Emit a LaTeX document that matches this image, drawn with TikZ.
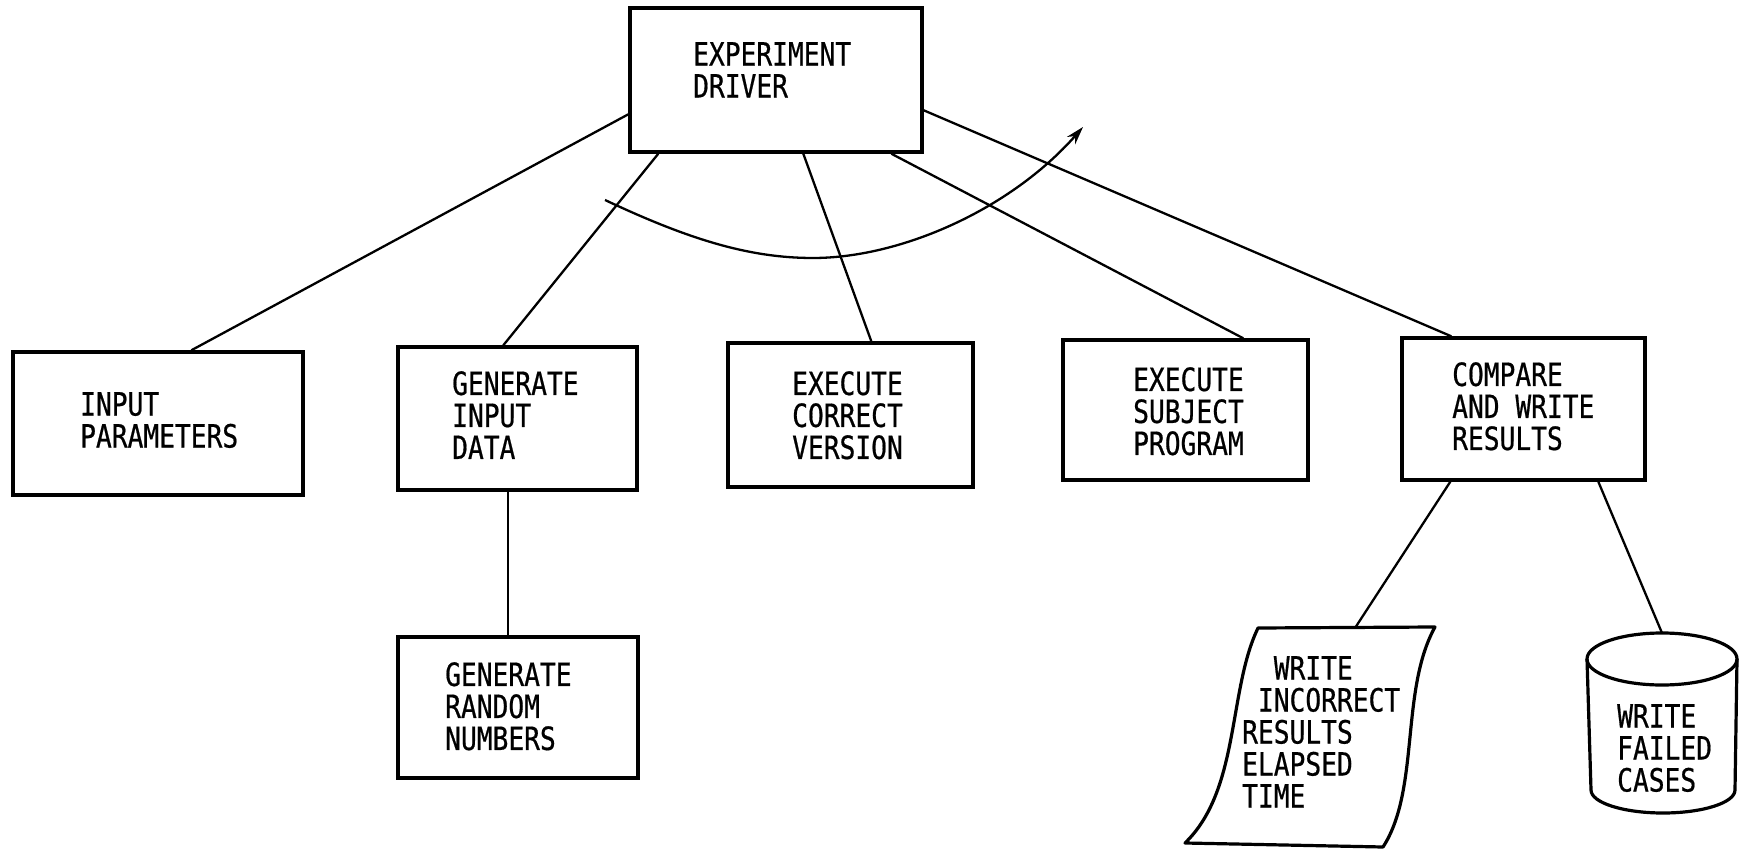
\documentclass[tikz,border=0pt]{standalone}
\usepackage{fontspec}
\newfontfamily\lblfont[FakeStretch=0.82,FakeBold=0.6]{DejaVu Sans Mono}
\usetikzlibrary{arrows.meta,calc}
\begin{document}
\begin{tikzpicture}[x=1pt,y=-1pt,
  box/.style={draw,line width=3.4pt,rectangle,inner sep=0pt},
  txt/.style={anchor=north west,inner sep=0pt,align=left,font=\fontsize{32}{32}\lblfont},
  link/.style={line width=2.3pt},
  shapeline/.style={line width=3.2pt,line join=round}]
\useasboundingbox (0,0) rectangle (1748,850);

% ---- boxes ----
\node[box,minimum width=292pt,minimum height=144pt] (drv) at (776,80) {};
\node[box,minimum width=290pt,minimum height=143pt] (inp) at (158,423.5) {};
\node[box,minimum width=239pt,minimum height=143pt] (gen) at (517.5,418.5) {};
\node[box,minimum width=245pt,minimum height=144pt] (cor) at (850.5,415) {};
\node[box,minimum width=245pt,minimum height=140pt] (sub) at (1185.5,410) {};
\node[box,minimum width=243pt,minimum height=142pt] (cmp) at (1523.5,409) {};
\node[box,minimum width=240pt,minimum height=141pt] (rnd) at (518,707.5) {};

% ---- box texts ----
\node[txt] (t-drv) at (693,42)  {EXPERIMENT\\DRIVER};
\node[txt] (t-inp) at (80,392)  {INPUT\\PARAMETERS};
\node[txt] (t-gen) at (452,371) {GENERATE\\INPUT\\DATA};
\node[txt] (t-cor) at (792,371) {EXECUTE\\CORRECT\\VERSION};
\node[txt] (t-sub) at (1133,367) {EXECUTE\\SUBJECT\\PROGRAM};
\node[txt] (t-cmp) at (1452,362) {COMPARE\\AND WRITE\\RESULTS};
\node[txt] (t-rnd) at (445,662) {GENERATE\\RANDOM\\NUMBERS};

% ---- printed document ----
\draw[shapeline] (1258,628) -- (1435,627)
  .. controls (1400,690) and (1420,790) .. (1383,847)
  -- (1185,843)
  .. controls (1240,790) and (1228,690) .. (1258,628) -- cycle;
\coordinate (doc-top) at (1355,628);
\node[txt] (t-doc) at (1242,656)
  {\phantom{XX}WRITE\\\phantom{X}INCORRECT\\RESULTS\\ELAPSED\\TIME};

% ---- storage drum ----
\draw[shapeline] (1587,659)
  .. controls (1587,644.6) and (1620.6,633) .. (1662,633)
  .. controls (1703.4,633) and (1737,644.6) .. (1737,659)
  .. controls (1737,673.4) and (1703.4,685) .. (1662,685)
  .. controls (1620.6,685) and (1587,673.4) .. (1587,659);
\draw[shapeline] (1587,659) -- (1591,790)
  .. controls (1591,802.7) and (1623.2,813) .. (1663,813)
  .. controls (1702.8,813) and (1735,802.7) .. (1735,790)
  -- (1737,659);
\coordinate (cyl-top) at (1662,633);
\node[txt] (t-cyl) at (1617,704) {WRITE\\FAILED\\CASES};

% ---- connectors ----
\draw[link] ($(drv.north west)+(0,108)$) -- ($(inp.north west)+(180,0)$);
\draw[link] ($(drv.south west)+(30,0)$) -- ($(gen.north west)+(107,0)$);
\draw[link] ($(drv.south west)+(175,0)$) -- ($(cor.north west)+(145,0)$);
\draw[link] ($(drv.south west)+(263,0)$) -- ($(sub.north west)+(182,0)$);
\draw[link] ($(drv.north east)+(0,104)$) -- ($(cmp.north west)+(51,0)$);
\draw[link] ($(gen.south west)+(112,0)$) -- ($(rnd.north west)+(112,0)$);
\draw[link] ($(cmp.south west)+(50,0)$) -- (doc-top);
\draw[link] ($(cmp.south west)+(198,0)$) -- (cyl-top);

% ---- loop arrow ----
\coordinate (loop-a) at (605,200);
\coordinate (loop-m) at (813,258);
\coordinate (loop-b) at (1083,127);
\draw[link,-{Stealth[length=18pt,width=11pt]}] (loop-a)
  .. controls (690,240) and (750,258) .. (loop-m)
  .. controls (900,258) and (1010,210) .. (loop-b);
\end{tikzpicture}
\end{document}
